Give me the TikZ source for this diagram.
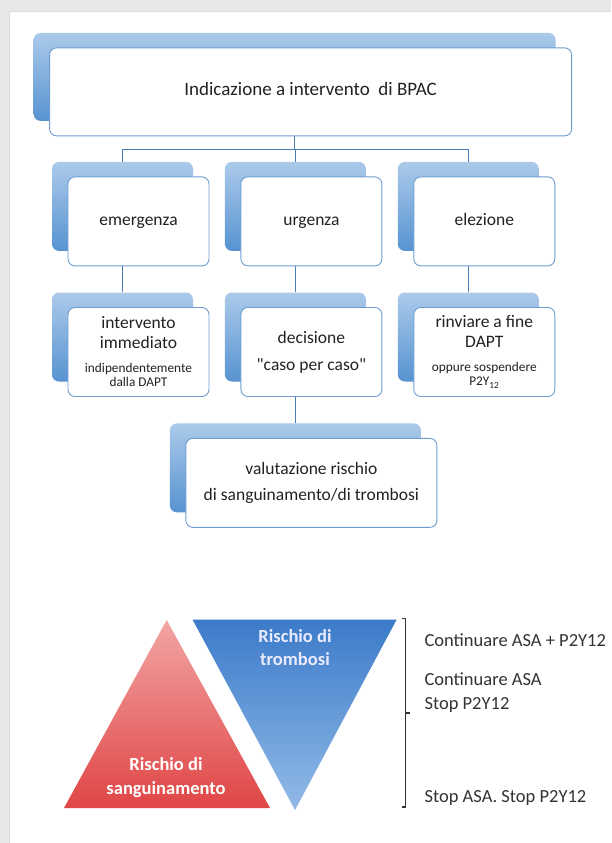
\documentclass[tikz,border=0pt]{standalone}
\usepackage{fontspec}
\setmainfont{Carlito}
\usetikzlibrary{positioning,backgrounds}

\definecolor{plateTop}{HTML}{ABCAEA}
\definecolor{plateBot}{HTML}{5793D1}
\definecolor{cardline}{HTML}{6F9DD2}
\definecolor{linkblue}{HTML}{4A7CB6}
\definecolor{ink}{HTML}{222222}
\definecolor{bleedTop}{HTML}{F2A5A5}
\definecolor{bleedBot}{HTML}{E04545}
\definecolor{clotTop}{HTML}{3C7BC9}
\definecolor{clotBot}{HTML}{92BAE8}

\newcommand\smallnote[1]{{\fontsize{13.3}{14.4}\selectfont #1}}

\begin{document}
\begin{tikzpicture}[x=1pt,y=-1pt,
	card/.style={draw=cardline,line width=0.9pt,fill=white,rounded corners=7pt,
		minimum width=141pt,minimum height=89pt,inner sep=2pt,align=center,
		text=ink,font=\fontsize{17.5}{20}\selectfont},
	oneline/.style={text height=12pt,text depth=4pt},
	plate/.style={rounded corners=7pt,top color=plateTop,bottom color=plateBot,
		inner sep=0pt},
	link/.style={draw=linkblue,line width=1.3pt},
	tritext/.style={align=center,text=white,font=\bfseries\fontsize{18.5}{23.5}\selectfont},
	action/.style={anchor=base west,align=left,text=black!80,
		font=\fontsize{18.5}{24}\selectfont}]
	\useasboundingbox (0,0) rectangle (611,843);

	% create the nodes.
	\node[card,oneline,minimum width=522pt,minimum height=88pt,
		font=\fontsize{19}{22}\selectfont] (bpac) at (310.6,91.9)
		{Indicazione a intervento~ di BPAC};
	\node[card,oneline] (emerg) at (138.5,221.4) {emergenza};
	\node[card,oneline,right=31pt of emerg] (urg) {urgenza};
	\node[card,oneline,right=31pt of urg] (elez) {elezione};
	\node[card,below=40.7pt of emerg] (imm)
		{intervento\\immediato\\[3.6pt]\smallnote{indipendentemente}\\[-5.6pt]\smallnote{dalla DAPT}};
	\node[card,below=40.7pt of urg] (dec) {decisione\\[7.3pt]\textquotedbl caso per caso\textquotedbl};
	\node[card,below=40.7pt of elez] (rinv)
		{rinviare a fine\\DAPT\\[3.6pt]\smallnote{oppure sospendere}\\[-5.6pt]\smallnote{P2Y\textsubscript{12}}};
	\node[card,minimum width=251pt,below=41pt of dec] (val)
		{valutazione rischio\\[6.6pt]di sanguinamento/di trombosi};

	\begin{pgfonlayer}{background}
		\fill[black!9] (0,0) rectangle (611,843);
		\fill[black!14] (9,11) rectangle (611,843);
		\fill[white] (10,12) rectangle (611,843);
		% blue plates behind the cards
		\foreach \n/\w/\h in {bpac/522/88,emerg/141/89,urg/141/89,elez/141/89,
			imm/141/89,dec/141/89,rinv/141/89,val/251/89}
			\node[plate,minimum width=\w pt,minimum height=\h pt] (\n-p)
				at ([shift={(-16pt,15pt)}]\n.center) {};

		% connect the nodes
		\coordinate (split) at ([yshift=-28.3pt]bpac-p.south);
		\draw[link] (bpac-p.south) -- (split);
		\foreach \n in {emerg,urg,elez}
			\draw[link] (split) -| (\n-p.north);
		\foreach \a/\b in {emerg/imm,urg/dec,elez/rinv,dec/val}
			\draw[link] (\a-p.south) -- (\b-p.north);
	\end{pgfonlayer}

	% risk triangles
	\shade[top color=bleedTop,bottom color=bleedBot]
		(64,808) -- (166.7,620) -- (270,808) -- cycle;
	\shade[top color=clotTop,bottom color=clotBot]
		(192.5,619.5) -- (396.7,619.5) -- (295,810) -- cycle;
	\node[tritext,text=white!92!blue] (clot) at (295,647.5) {Rischio di\\trombosi};
	\node[tritext] (bleed) at (166,777.4) {Rischio di\\sanguinamento};

	% therapy options
	\draw[line width=1.4pt,black!80] (401.5,618.5) -- (405.5,618.5) -- (405.5,807) -- (401.5,807)
		(405.5,713) -- (409.5,713);
	\node[action] (both) at (421,646.5) {Continuare ASA + P2Y12};
	\node[action] (asa) at (421,709.5) {Continuare ASA\\Stop P2Y12};
	\node[action] (none) at (421,802.5) {Stop ASA. Stop P2Y12};
\end{tikzpicture}
\end{document}
